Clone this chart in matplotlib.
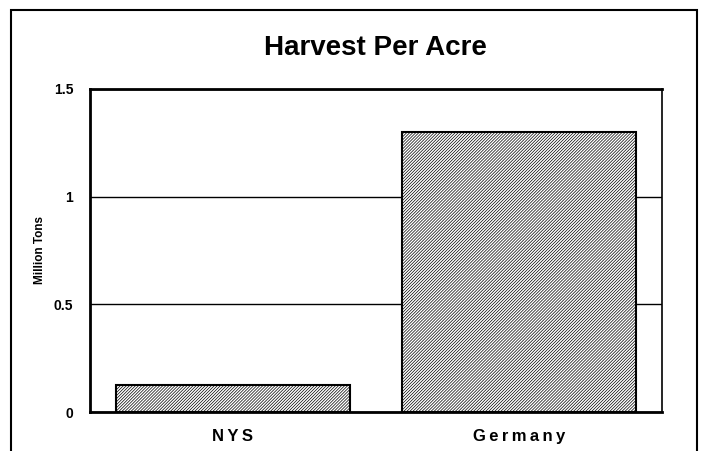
import matplotlib
matplotlib.use("Agg")
import matplotlib.pyplot as plt
from matplotlib.patches import Rectangle

plt.rcParams["font.family"] = ["Liberation Sans", "DejaVu Sans"]
plt.rcParams["hatch.linewidth"] = 0.5
plt.rcParams["hatch.color"] = "#6a6a6a"

categories = ["N\u2009Y\u2009S", "G\u2009e\u2009r\u2009m\u2009a\u2009n\u2009y"]
values = [0.125, 1.3]
yticks = [0, 0.5, 1, 1.5]
ytick_labels = ["0", "0.5", "1", "1.5"]

W, H = 701, 451
fig = plt.figure(figsize=(W / 100, H / 100), dpi=100)
ax = fig.add_axes([90 / W, 1 - 412 / H, 572 / W, (412 - 89) / H])

x = range(len(categories))
ax.bar(x, values, width=0.82, facecolor="white", edgecolor="black",
       linewidth=1.5, hatch="///////////", zorder=3)

ax.set_xlim(-0.5, 1.5)
ax.set_ylim(0, 1.5)
ax.set_yticks(yticks)
ax.set_yticklabels(ytick_labels, fontsize=10, fontweight="bold")
ax.set_xticks(list(x))
ax.set_xticklabels(categories, fontsize=12, fontweight="bold")
ax.tick_params(length=0)
ax.tick_params(axis="y", pad=12)
ax.tick_params(axis="x", pad=12)
ax.grid(axis="y", color="black", linewidth=1, zorder=1)
for side in ["left", "top", "bottom", "right"]:
    ax.spines[side].set_linewidth(2)
ax.spines["right"].set_linewidth(1.2)

ax.set_ylabel("Million Tons", fontsize=8.5, fontweight="bold", labelpad=6)
fig.text(375 / W, 1 - 48 / H, "Harvest Per Acre", fontsize=20,
         fontweight="bold", ha="center", va="center")

# outer frame
fig.add_artist(Rectangle((11 / W, -0.05), (697 - 11) / W, 1.05 - 10 / H,
                         transform=fig.transFigure, fill=False,
                         edgecolor="black", linewidth=1.5))

plt.savefig("out.png", dpi=100)
